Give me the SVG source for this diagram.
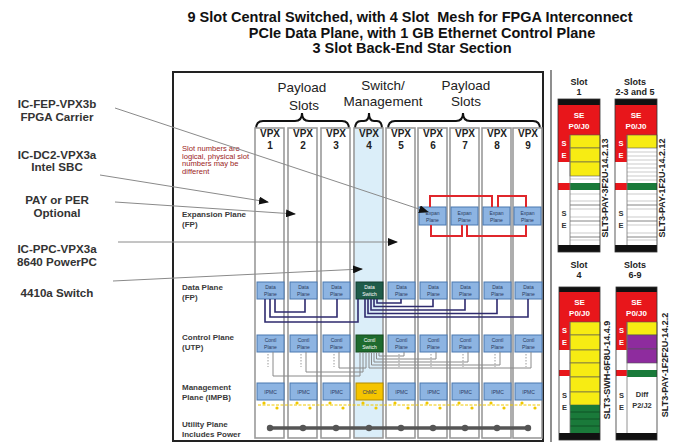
<svg xmlns="http://www.w3.org/2000/svg" width="675" height="444" viewBox="0 0 675 444">
<defs>
<marker id="ah" viewBox="0 0 10 8" refX="9" refY="4" markerWidth="10" markerHeight="8" markerUnits="userSpaceOnUse" orient="auto"><path d="M0,0 L10,4 L0,8 Z" fill="#111"/></marker>
<style>
text{font-family:"Liberation Sans",Arial,sans-serif}
.title{font-size:14.5px;font-weight:bold;fill:#111;text-anchor:middle;white-space:pre}
.lbl{font-size:11.6px;font-weight:bold;fill:#333;text-anchor:middle}
.hdr{font-size:13.5px;fill:#222;text-anchor:middle}
.plane{font-size:8px;font-weight:bold;fill:#3a3a3a}
.note{font-size:7.6px;fill:#9b1c1c}
.col{fill:#fff;stroke:#9a9a9a;stroke-width:1.6}
.col4{fill:#dbeef9;stroke:#9a9a9a;stroke-width:1.6}
.vpx{font-size:10px;font-weight:bold;fill:#222;text-anchor:middle}
.bx{fill:#8db4e2;stroke:#4a78b0;stroke-width:1}
.bt{font-size:5px;fill:#2a3a60;text-anchor:middle}
.bw{font-size:5px;fill:#fff;text-anchor:middle}
.dsw{fill:#1f5c4a;stroke:#133d30;stroke-width:1}
.csw{fill:#1e6b2e;stroke:#124a1d;stroke-width:1}
.cmc{fill:#f5c400;stroke:#b08a00;stroke-width:1}
.lead{stroke:#8a8a8a;stroke-width:1;fill:none;marker-end:url(#ah)}
.brace{stroke:#111;stroke-width:2;fill:none}
.mesh{stroke:#e0262b;stroke-width:2;fill:none}
.dp{stroke:#2e2a6e;stroke-width:1.6;fill:none}
.cp{stroke:#8a8a8a;stroke-width:1;fill:none}
.dash{stroke:#9a9a9a;stroke-width:1;stroke-dasharray:1.5 1.5}
.sl{font-size:9px;font-weight:bold;fill:#222;text-anchor:middle}
.vt{font-size:9px;font-weight:bold;fill:#222;text-anchor:middle}
.blk{fill:#111}
.red{fill:#e8161b}
.yel{fill:#f7ec13;stroke:#555;stroke-width:0.6}
.grn{fill:#1a7a3a}
.pur{fill:#8e2c9e;stroke:#555;stroke-width:0.6}
.wt{font-size:8px;font-weight:bold;fill:#fff;text-anchor:middle}
.se{font-size:7.5px;font-weight:bold;fill:#fff;text-anchor:middle}
.sd{font-size:7.5px;font-weight:bold;fill:#333;text-anchor:middle}
.row{stroke:#aaa;stroke-width:0.6}
.rowd{stroke:#666;stroke-width:0.8}
.card{fill:none;stroke:#333;stroke-width:0.8}
</style>
</defs>

<g id="title">
<text class="title" x="410" y="22" xml:space="preserve">9 Slot Central Switched, with 4 Slot  Mesh for FPGA Interconnect</text>
<text class="title" x="422" y="37.5">PCIe Data Plane, with 1 GB Ethernet Control Plane</text>
<text class="title" x="412" y="53">3 Slot Back-End Star Section</text>
</g>

<g id="left-labels">
<text class="lbl" x="57" y="108">IC-FEP-VPX3b</text>
<text class="lbl" x="57" y="121">FPGA Carrier</text>
<text class="lbl" x="57" y="159">IC-DC2-VPX3a</text>
<text class="lbl" x="57" y="171">Intel SBC</text>
<text class="lbl" x="57" y="204">PAY or PER</text>
<text class="lbl" x="57" y="217">Optional</text>
<text class="lbl" x="57" y="253">IC-PPC-VPX3a</text>
<text class="lbl" x="57" y="266">8640 PowerPC</text>
<text class="lbl" x="57" y="297">4410a Switch</text>
</g>

<g id="chassis">
<rect x="173" y="72" width="370" height="369" fill="#fff" stroke="#222" stroke-width="2"/>
<text class="hdr" x="302" y="92">Payload</text>
<text class="hdr" x="304" y="110">Slots</text>
<text class="hdr" x="383" y="90">Switch/</text>
<text class="hdr" x="383" y="106">Management</text>
<text class="hdr" x="466" y="90">Payload</text>
<text class="hdr" x="466" y="106">Slots</text>
<path class="brace" d="M256,129 Q256,121 263,121 H295 Q302,121 302,113 Q302,121 309,121 H342 Q349,121 349,129"/>
<path class="brace" d="M355,129 Q355,121 361,121 H364 Q369,121 369,113 Q369,121 374,121 H377 Q382,121 382,129"/>
<path class="brace" d="M388,129 Q388,121 395,121 H456 Q463,121 463,113 Q463,121 470,121 H533 Q540,121 540,129"/>
<text class="note" x="182" y="151">Slot numbers are</text>
<text class="note" x="182" y="158.5">logical, physical slot</text>
<text class="note" x="182" y="166">numbers may be</text>
<text class="note" x="182" y="173.5">different</text>
<text class="plane" x="182" y="217">Expansion Plane</text>
<text class="plane" x="182" y="227">(FP)</text>
<text class="plane" x="182" y="290">Data Plane</text>
<text class="plane" x="182" y="300">(FP)</text>
<text class="plane" x="182" y="340">Control Plane</text>
<text class="plane" x="182" y="350">(UTP)</text>
<text class="plane" x="182" y="390">Management</text>
<text class="plane" x="182" y="400">Plane (IMPB)</text>
<text class="plane" x="182" y="427">Utility Plane</text>
<text class="plane" x="182" y="437">Includes Power</text>
</g>

<g id="slot1">
<rect class="col" x="255" y="128" width="29" height="310"/>
<text class="vpx" x="270" y="137">VPX</text><text class="vpx" x="270" y="149">1</text>
<rect class="bx" x="257" y="282" width="27" height="17"/><text class="bt" x="270.5" y="289">Data</text><text class="bt" x="270.5" y="296">Plane</text>
<rect class="bx" x="257" y="335" width="27" height="17"/><text class="bt" x="270.5" y="342">Contl</text><text class="bt" x="270.5" y="349">Plane</text>
<rect class="bx" x="257" y="383" width="27" height="17"/><text class="bt" x="270.5" y="393.5">IPMC</text>
</g>
<g id="slot2">
<rect class="col" x="288" y="128" width="29" height="310"/>
<text class="vpx" x="303" y="137">VPX</text><text class="vpx" x="303" y="149">2</text>
<rect class="bx" x="290" y="282" width="27" height="17"/><text class="bt" x="303.5" y="289">Data</text><text class="bt" x="303.5" y="296">Plane</text>
<rect class="bx" x="290" y="335" width="27" height="17"/><text class="bt" x="303.5" y="342">Contl</text><text class="bt" x="303.5" y="349">Plane</text>
<rect class="bx" x="290" y="383" width="27" height="17"/><text class="bt" x="303.5" y="393.5">IPMC</text>
</g>
<g id="slot3">
<rect class="col" x="321" y="128" width="29" height="310"/>
<text class="vpx" x="336" y="137">VPX</text><text class="vpx" x="336" y="149">3</text>
<rect class="bx" x="323" y="282" width="27" height="17"/><text class="bt" x="336.5" y="289">Data</text><text class="bt" x="336.5" y="296">Plane</text>
<rect class="bx" x="323" y="335" width="27" height="17"/><text class="bt" x="336.5" y="342">Contl</text><text class="bt" x="336.5" y="349">Plane</text>
<rect class="bx" x="323" y="383" width="27" height="17"/><text class="bt" x="336.5" y="393.5">IPMC</text>
</g>
<g id="slot4">
<rect class="col4" x="354" y="128" width="29" height="310"/>
<text class="vpx" x="369" y="137">VPX</text><text class="vpx" x="369" y="149">4</text>
<rect class="dsw" x="356" y="282" width="27" height="17"/><text class="bw" x="369.5" y="289">Data</text><text class="bw" x="369.5" y="296">Switch</text>
<rect class="csw" x="356" y="335" width="27" height="17"/><text class="bw" x="369.5" y="342">Contl</text><text class="bw" x="369.5" y="349">Switch</text>
<rect class="cmc" x="356" y="383" width="27" height="17"/><text class="bt" x="369.5" y="393.5">ChMC</text>
</g>
<g id="slot5">
<rect class="col" x="386" y="128" width="29" height="310"/>
<text class="vpx" x="401" y="137">VPX</text><text class="vpx" x="401" y="149">5</text>
<rect class="bx" x="388" y="282" width="27" height="17"/><text class="bt" x="401.5" y="289">Data</text><text class="bt" x="401.5" y="296">Plane</text>
<rect class="bx" x="388" y="335" width="27" height="17"/><text class="bt" x="401.5" y="342">Contl</text><text class="bt" x="401.5" y="349">Plane</text>
<rect class="bx" x="388" y="383" width="27" height="17"/><text class="bt" x="401.5" y="393.5">IPMC</text>
</g>
<g id="slot6">
<rect class="col" x="418" y="128" width="29" height="310"/>
<text class="vpx" x="433" y="137">VPX</text><text class="vpx" x="433" y="149">6</text>
<rect class="bx" x="419" y="207" width="27" height="18"/><text class="bt" x="432.5" y="214.5">Expan</text><text class="bt" x="432.5" y="221.5">Plane</text>
<rect class="bx" x="420" y="282" width="27" height="17"/><text class="bt" x="433.5" y="289">Data</text><text class="bt" x="433.5" y="296">Plane</text>
<rect class="bx" x="420" y="335" width="27" height="17"/><text class="bt" x="433.5" y="342">Contl</text><text class="bt" x="433.5" y="349">Plane</text>
<rect class="bx" x="420" y="383" width="27" height="17"/><text class="bt" x="433.5" y="393.5">IPMC</text>
</g>
<g id="slot7">
<rect class="col" x="450" y="128" width="29" height="310"/>
<text class="vpx" x="465" y="137">VPX</text><text class="vpx" x="465" y="149">7</text>
<rect class="bx" x="451" y="207" width="27" height="18"/><text class="bt" x="464.5" y="214.5">Expan</text><text class="bt" x="464.5" y="221.5">Plane</text>
<rect class="bx" x="452" y="282" width="27" height="17"/><text class="bt" x="465.5" y="289">Data</text><text class="bt" x="465.5" y="296">Plane</text>
<rect class="bx" x="452" y="335" width="27" height="17"/><text class="bt" x="465.5" y="342">Contl</text><text class="bt" x="465.5" y="349">Plane</text>
<rect class="bx" x="452" y="383" width="27" height="17"/><text class="bt" x="465.5" y="393.5">IPMC</text>
</g>
<g id="slot8">
<rect class="col" x="482" y="128" width="29" height="310"/>
<text class="vpx" x="497" y="137">VPX</text><text class="vpx" x="497" y="149">8</text>
<rect class="bx" x="483" y="207" width="27" height="18"/><text class="bt" x="496.5" y="214.5">Expan</text><text class="bt" x="496.5" y="221.5">Plane</text>
<rect class="bx" x="484" y="282" width="27" height="17"/><text class="bt" x="497.5" y="289">Data</text><text class="bt" x="497.5" y="296">Plane</text>
<rect class="bx" x="484" y="335" width="27" height="17"/><text class="bt" x="497.5" y="342">Contl</text><text class="bt" x="497.5" y="349">Plane</text>
<rect class="bx" x="484" y="383" width="27" height="17"/><text class="bt" x="497.5" y="393.5">IPMC</text>
</g>
<g id="slot9">
<rect class="col" x="513" y="128" width="29" height="310"/>
<text class="vpx" x="528" y="137">VPX</text><text class="vpx" x="528" y="149">9</text>
<rect class="bx" x="514" y="207" width="27" height="18"/><text class="bt" x="527.5" y="214.5">Expan</text><text class="bt" x="527.5" y="221.5">Plane</text>
<rect class="bx" x="515" y="282" width="27" height="17"/><text class="bt" x="528.5" y="289">Data</text><text class="bt" x="528.5" y="296">Plane</text>
<rect class="bx" x="515" y="335" width="27" height="17"/><text class="bt" x="528.5" y="342">Contl</text><text class="bt" x="528.5" y="349">Plane</text>
<rect class="bx" x="515" y="383" width="27" height="17"/><text class="bt" x="528.5" y="393.5">IPMC</text>
</g>

<g id="connectors">
<path class="mesh" d="M430,207 V196 H492 V207"/>
<path class="mesh" d="M498,207 V196 H526 V207"/>
<path class="mesh" d="M431,225 V236 H462 V225"/>
<path class="mesh" d="M467,225 V236 H526 V225"/>
<path class="dp" d="M265,299 V322 H358 V299"/>
<path class="dp" d="M270,299 V317 H337 V299"/>
<path class="dp" d="M275,299 V312 H305 V299"/>
<path class="dp" d="M377,299 V303 H401 V299"/>
<path class="dp" d="M374,299 V306.5 H433 V299"/>
<path class="dp" d="M371,299 V310 H465 V299"/>
<path class="dp" d="M368,299 V313.5 H497 V299"/>
<path class="dp" d="M365,299 V317 H528 V299"/>
<path class="cp" d="M273,352 V376 H360 V352"/>
<path class="cp" d="M306,352 V372 H363 V352"/>
<path class="cp" d="M339,352 V368 H366 V352"/>
<path class="cp" d="M379,352 V356 H404 V352"/>
<path class="cp" d="M376.5,352 V359 H436 V352"/>
<path class="cp" d="M374,352 V362 H468 V352"/>
<path class="cp" d="M371.5,352 V365 H500 V352"/>
<path class="cp" d="M369,352 V368 H531 V352"/>
<path class="dash" d="M268,354 V367 M301,354 V367 M334,354 V367 M399,354 V367 M431,354 V367 M463,354 V367 M495,354 V367 M526,354 V367"/>
<path d="M258,405 H540" stroke="#f0c800" stroke-width="1" stroke-dasharray="3 1.5"/>
<g fill="#f0c800">
<circle cx="264" cy="403" r="1.6"/><circle cx="277" cy="408" r="1.6"/>
<circle cx="297" cy="403" r="1.6"/><circle cx="310" cy="408" r="1.6"/>
<circle cx="330" cy="403" r="1.6"/><circle cx="343" cy="408" r="1.6"/>
<circle cx="363" cy="403" r="1.6"/><circle cx="376" cy="408" r="1.6"/>
<circle cx="395" cy="403" r="1.6"/><circle cx="408" cy="408" r="1.6"/>
<circle cx="427" cy="403" r="1.6"/><circle cx="440" cy="408" r="1.6"/>
<circle cx="459" cy="403" r="1.6"/><circle cx="472" cy="408" r="1.6"/>
<circle cx="491" cy="403" r="1.6"/><circle cx="504" cy="408" r="1.6"/>
<circle cx="522" cy="403" r="1.6"/><circle cx="535" cy="408" r="1.6"/>
</g>
<path d="M268,428 H529" stroke="#555" stroke-width="3.5"/>
<g fill="#555">
<circle cx="270" cy="428" r="3.2"/><circle cx="303" cy="428" r="3.2"/><circle cx="336" cy="428" r="3.2"/>
<circle cx="369" cy="428" r="3.2"/><circle cx="401" cy="428" r="3.2"/><circle cx="433" cy="428" r="3.2"/>
<circle cx="465" cy="428" r="3.2"/><circle cx="497" cy="428" r="3.2"/><circle cx="528" cy="428" r="3.2"/>
</g>
<line class="lead" x1="115" y1="108" x2="428" y2="212"/>
<line class="lead" x1="100" y1="175" x2="268" y2="202"/>
<line class="lead" x1="115" y1="202" x2="295" y2="214"/>
<line class="lead" x1="118" y1="242" x2="397" y2="242"/>
<line class="lead" x1="113" y1="281" x2="362" y2="269"/>
</g>

<line x1="551" y1="70" x2="551" y2="442" stroke="#444" stroke-width="1.2"/>

<g id="legend-slot1">
<text class="sl" x="579" y="85">Slot</text><text class="sl" x="579" y="95">1</text>
<rect class="blk" x="558" y="99" width="42" height="6"/>
<rect class="red" x="558" y="105" width="42" height="30"/>
<text class="wt" x="579" y="118">SE</text><text class="wt" x="579" y="129">P0/J0</text>
<rect class="red" x="558" y="135" width="12" height="27"/>
<text class="se" x="564" y="146">S</text><text class="se" x="564" y="158">E</text>
<rect class="yel" x="570" y="135" width="30" height="13"/>
<rect class="yel" x="570" y="148" width="30" height="14"/>
<rect class="yel" x="570" y="162" width="30" height="14"/>
<path class="row" d="M570,179 H600"/>
<rect class="red" x="558" y="183" width="12" height="7"/>
<rect class="grn" x="570" y="183" width="30" height="7"/>
<path class="row" d="M570,194 H600 M570,201 H600 M570,209 H600 M570,217 H600 M570,225 H600 M570,233 H600 M570,240 H600"/>
<path class="rowd" d="M570,205 H600 M570,221 H600 M570,237 H600"/>
<text class="sd" x="564" y="216">S</text><text class="sd" x="564" y="228">E</text>
<rect class="blk" x="558" y="245" width="42" height="7"/>
<path d="M570,135 V245" stroke="#777" stroke-width="0.8"/>
<rect class="card" x="558" y="99" width="42" height="153"/>
<text class="vt" transform="translate(608,188) rotate(-90)">SLT3-PAY-3F2U-14.2.13</text>
</g>

<g id="legend-slot235">
<text class="sl" x="635" y="85">Slots</text><text class="sl" x="635" y="95">2-3 and 5</text>
<rect class="blk" x="615" y="99" width="42" height="6"/>
<rect class="red" x="615" y="105" width="42" height="30"/>
<text class="wt" x="636" y="118">SE</text><text class="wt" x="636" y="129">P0/J0</text>
<rect class="red" x="615" y="135" width="12" height="27"/>
<text class="se" x="621" y="146">S</text><text class="se" x="621" y="158">E</text>
<rect class="yel" x="627" y="135" width="30" height="13"/>
<path class="row" d="M627,152 H657 M627,156 H657 M627,160 H657 M627,164 H657 M627,168 H657 M627,172 H657 M627,176 H657 M627,180 H657"/>
<rect class="red" x="615" y="183" width="12" height="7"/>
<rect class="grn" x="627" y="183" width="30" height="7"/>
<path class="row" d="M627,194 H657 M627,201 H657 M627,209 H657 M627,217 H657 M627,225 H657 M627,233 H657 M627,240 H657"/>
<path class="rowd" d="M627,205 H657 M627,221 H657 M627,237 H657"/>
<text class="sd" x="621" y="216">S</text><text class="sd" x="621" y="228">E</text>
<rect class="blk" x="615" y="245" width="42" height="7"/>
<path d="M627,135 V245" stroke="#777" stroke-width="0.8"/>
<rect class="card" x="615" y="99" width="42" height="153"/>
<text class="vt" transform="translate(665,188) rotate(-90)">SLT3-PAY-1F2U-14.2.12</text>
</g>

<g id="legend-slot4">
<text class="sl" x="579" y="268">Slot</text><text class="sl" x="579" y="278">4</text>
<rect class="blk" x="559" y="287" width="41" height="5"/>
<rect class="red" x="559" y="292" width="41" height="30"/>
<text class="wt" x="579.5" y="305">SE</text><text class="wt" x="579.5" y="316">P0/J0</text>
<rect class="red" x="559" y="322" width="11" height="28"/>
<text class="se" x="564.5" y="333">S</text><text class="se" x="564.5" y="345">E</text>
<rect class="yel" x="570" y="322" width="30" height="13"/>
<rect class="yel" x="570" y="335" width="30" height="15"/>
<rect class="yel" x="570" y="350" width="30" height="13"/>
<rect class="yel" x="570" y="363" width="30" height="14"/>
<rect class="yel" x="570" y="377" width="30" height="15"/>
<rect class="yel" x="570" y="392" width="30" height="13"/>
<rect class="red" x="559" y="370" width="11" height="6"/>
<rect class="grn" x="570" y="405" width="30" height="28"/>
<path d="M570,412 H600 M570,419 H600 M570,426 H600" stroke="#0d4a22" stroke-width="0.8"/>
<text class="sd" x="564.5" y="398">S</text><text class="sd" x="564.5" y="410">E</text>
<rect class="blk" x="559" y="433" width="41" height="7"/>
<path d="M570,322 V433" stroke="#777" stroke-width="0.8"/>
<rect class="card" x="559" y="287" width="41" height="153"/>
<text class="vt" transform="translate(610,370) rotate(-90)">SLT3-SWH-6F8U-14.4.9</text>
</g>

<g id="legend-slot69">
<text class="sl" x="635" y="268">Slots</text><text class="sl" x="635" y="278">6-9</text>
<rect class="blk" x="616" y="287" width="41" height="5"/>
<rect class="red" x="616" y="292" width="41" height="30"/>
<text class="wt" x="636.5" y="305">SE</text><text class="wt" x="636.5" y="316">P0/J0</text>
<rect class="red" x="616" y="322" width="11" height="28"/>
<text class="se" x="621.5" y="333">S</text><text class="se" x="621.5" y="345">E</text>
<rect class="yel" x="627" y="322" width="30" height="13"/>
<rect class="pur" x="627" y="335" width="30" height="14"/>
<rect class="pur" x="627" y="349" width="30" height="14"/>
<rect class="red" x="616" y="370" width="11" height="6"/>
<rect class="grn" x="627" y="370" width="30" height="7"/>
<text class="sd" x="642" y="397">Diff</text><text class="sd" x="642" y="408">P2/J2</text>
<text class="sd" x="621.5" y="398">S</text><text class="sd" x="621.5" y="410">E</text>
<rect class="blk" x="616" y="433" width="41" height="7"/>
<path d="M627,322 V433" stroke="#777" stroke-width="0.8"/>
<rect class="card" x="616" y="287" width="41" height="153"/>
<text class="vt" transform="translate(668,365) rotate(-90)">SLT3-PAY-1F2F2U-14.2.2</text>
</g>
</svg>
